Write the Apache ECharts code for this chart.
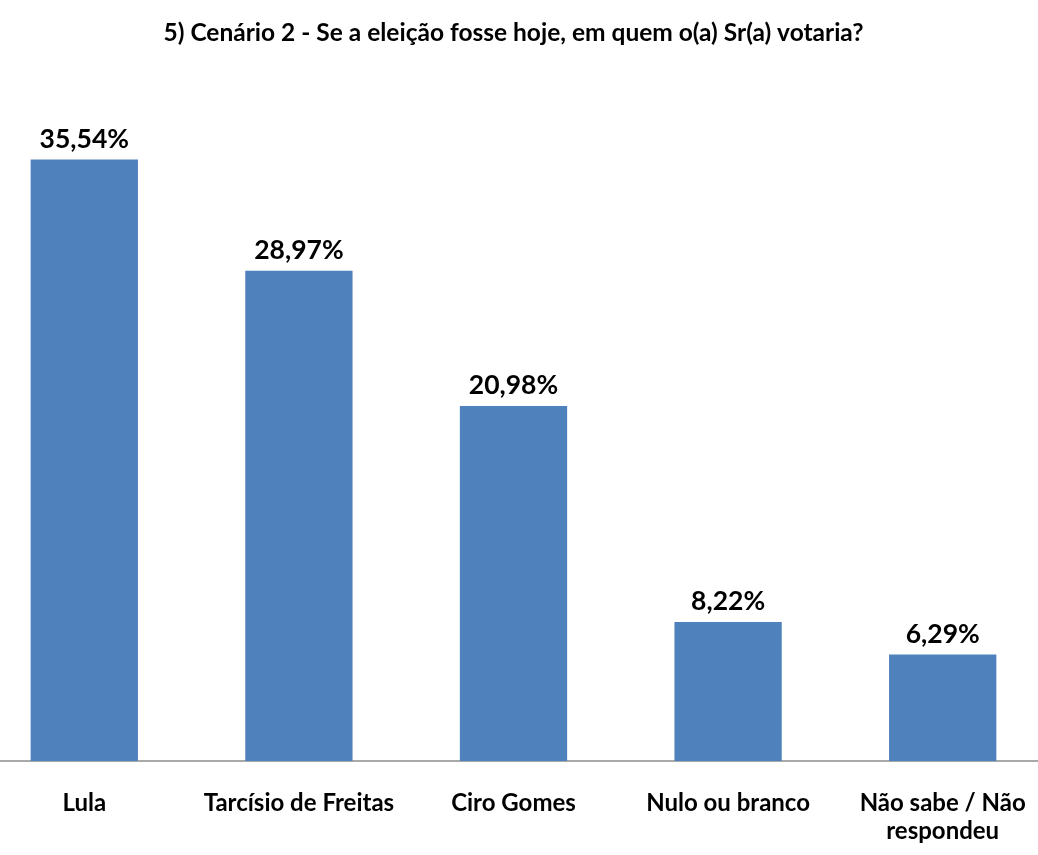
<!DOCTYPE html>
<html>
<head>
<meta charset="utf-8">
<script src="https://cdn.jsdelivr.net/npm/echarts@6/dist/echarts.min.js"></script>
<style>
	html, body { margin: 0; padding: 0; background: #fff; overflow: hidden; }
	/* plot runs a bit past both window edges, like the cropped original */
	#chart { position: absolute; left: -23px; top: 0; width: 1073px; height: 855px; }
</style>
</head>
<body>
<div id="chart"></div>
<script>
var titleText = '5) Cenário 2 - Se a eleição fosse hoje, em quem o(a) Sr(a) votaria?';
var categories = ['Lula', 'Tarcísio de Freitas', 'Ciro Gomes', 'Nulo ou branco', 'Não sabe / Não\nrespondeu'];
var values = [35.54, 28.97, 20.98, 8.22, 6.29];

var myChart = echarts.init(document.getElementById('chart'));
var fontName = 'Lato, "Open Sans", sans-serif';

var option = {
	backgroundColor: '#ffffff',
	animation: false,
	title: {
		text: titleText,
		left: 'center',
		top: 16,
		textStyle: {
			fontFamily: fontName,
			fontSize: 24.5,
			fontWeight: 'bold',
			color: '#000'
		}
	},
	grid: {
		left: 0,
		right: 0,
		top: 84,
		bottom: 94,
		containLabel: false
	},
	xAxis: {
		type: 'category',
		data: categories,
		axisLine: { show: true, lineStyle: { color: '#8c8c8c', width: 1.5 } },
		axisTick: { show: false },
		axisLabel: {
			margin: 28,
			interval: 0,
			fontFamily: fontName,
			fontSize: 24,
			fontWeight: 'bold',
			color: '#000',
			lineHeight: 28
		}
	},
	yAxis: {
		type: 'value',
		min: 0,
		max: 40,
		show: false,
		splitLine: { show: false }
	},
	series: [
		{
			type: 'bar',
			data: values,
			barWidth: '50%',
			itemStyle: { color: '#4f81bd' },
			label: {
				show: true,
				position: 'top',
				distance: 7,
				fontFamily: fontName,
				fontSize: 26.5,
				fontWeight: 'bold',
				color: '#000',
				formatter: function(p) {
					return p.value.toFixed(2).replace('.', ',') + '%';
				}
			}
		}
	]
};
myChart.setOption(option);
</script>
</body>
</html>
